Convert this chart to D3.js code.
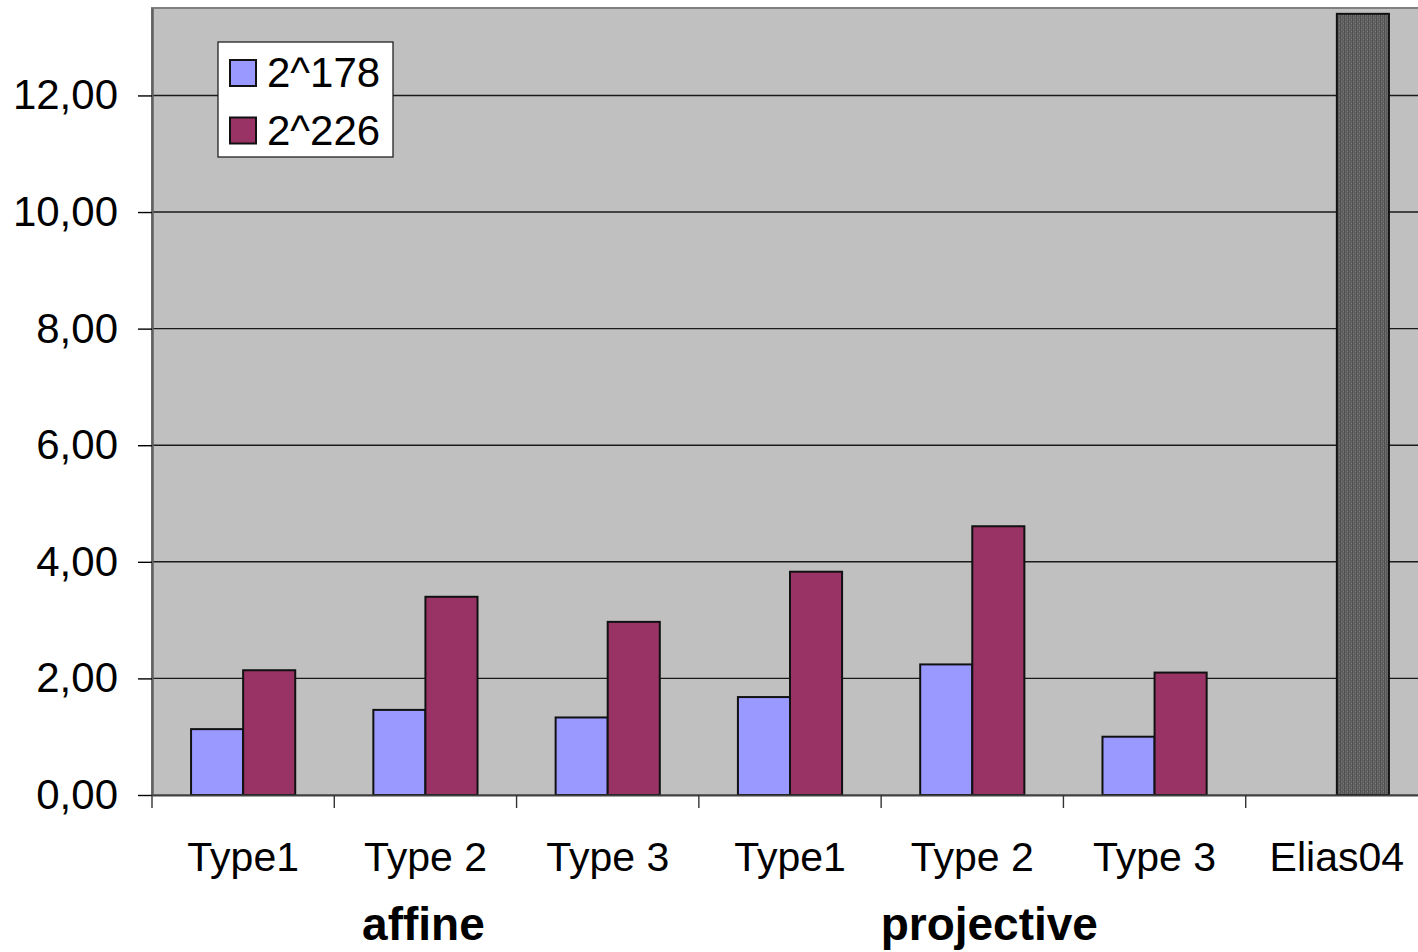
<!DOCTYPE html>
<html>
<head>
<meta charset="utf-8">
<script src="https://cdn.jsdelivr.net/npm/d3@7"></script>
<style>
  html, body { margin: 0; padding: 0; background: #fff; }
  svg { display: block; }
  text { font-family: "Liberation Sans", Arial, sans-serif; fill: #000; }
</style>
</head>
<body>
<svg id="chart" width="1418" height="952"></svg>
<script>
// Category labels along the x axis
const categories = ["Type1", "Type 2", "Type 3", "Type1", "Type 2", "Type 3", "Elias04"];
// Series names as shown in the legend
const seriesNames = ["2^178", "2^226"];
// Values per series (null = no bar)
const values178 = [1.13, 1.46, 1.33, 1.68, 2.24, 1.00, null];
const values226 = [2.14, 3.40, 2.97, 3.83, 4.61, 2.10, 13.40];
// Group labels under the categories: [label, first index, last index]
const groupLabels = ["affine", "projective"];
const groupStart = [0, 3];
const groupEnd = [2, 5];
// Y axis tick values
const yTicks = [0, 2, 4, 6, 8, 10, 12];

const svg = d3.select("#chart");
const plotLeft = 152, plotRight = 1428, plotTop = 8, plotBottom = 795;

const x = d3.scaleBand().domain(d3.range(categories.length)).range([plotLeft, plotRight]).padding(0);
const x1 = d3.scaleBand().domain([0, 1]).range([0, x.bandwidth()]).paddingInner(0).paddingOuter(0.75);
const y = d3.scaleLinear().domain([0, 13.5]).range([plotBottom, plotTop]);

const colors = ["#9999FF", "#993366"];

// Texture used for the Elias04 bar
const defs = svg.append("defs");
const pat = defs.append("pattern").attr("id", "eliasFill")
  .attr("patternUnits", "userSpaceOnUse").attr("width", 4).attr("height", 4);
pat.append("rect").attr("width", 4).attr("height", 4).attr("fill", "#666666");
pat.append("rect").attr("x", 0).attr("width", 1).attr("height", 4).attr("fill", "#505050");
pat.append("rect").attr("x", 2).attr("width", 1).attr("height", 4).attr("fill", "#5a5a5a");
pat.append("rect").attr("x", 1).attr("y", 1).attr("width", 1).attr("height", 1).attr("fill", "#777777");
pat.append("rect").attr("x", 3).attr("y", 3).attr("width", 1).attr("height", 1).attr("fill", "#777777");

// Plot area background
svg.append("rect")
  .attr("x", plotLeft).attr("y", plotTop)
  .attr("width", plotRight - plotLeft).attr("height", plotBottom - plotTop)
  .attr("fill", "#C0C0C0")
  .attr("stroke", "#808080").attr("stroke-width", 2);

// Horizontal gridlines
svg.append("g").selectAll("line").data(yTicks.filter(d => d > 0)).join("line")
  .attr("x1", plotLeft).attr("x2", plotRight)
  .attr("y1", d => y(d)).attr("y2", d => y(d))
  .attr("stroke", "#1a1a1a").attr("stroke-width", 1.4);

// Y axis
const yAxis = d3.axisLeft(y).tickValues(yTicks).tickSizeInner(14).tickSizeOuter(0).tickPadding(20)
  .tickFormat(d => d3.format(".2f")(d).replace(".", ","));
const gy = svg.append("g").attr("transform", `translate(${plotLeft},0)`).call(yAxis);
gy.select(".domain").attr("stroke", "#606060").attr("stroke-width", 2.5);
gy.selectAll(".tick line").attr("stroke", "#000").attr("stroke-width", 1.4);
gy.selectAll(".tick text")
  .style("font-family", '"Liberation Sans", Arial, sans-serif')
  .style("font-size", "42px").attr("fill", "#000");

// Bars
const barData = [];
categories.forEach((c, i) => {
  [values178[i], values226[i]].forEach((v, s) => {
    if (v != null) barData.push({ i, s, v, special: categories[i] === "Elias04" });
  });
});
svg.append("g").selectAll("rect").data(barData).join("rect")
  .attr("x", d => x(d.i) + x1(d.s))
  .attr("y", d => y(d.v))
  .attr("width", x1.bandwidth())
  .attr("height", d => y(0) - y(d.v))
  .attr("fill", d => d.special ? "url(#eliasFill)" : colors[d.s])
  .attr("stroke", "#111").attr("stroke-width", 2);

// X axis baseline and category ticks
const xAxis = d3.axisBottom(x).tickSize(0).tickFormat(i => categories[i]).tickPadding(47);
const gx = svg.append("g").attr("transform", `translate(0,${plotBottom})`).call(xAxis);
gx.select(".domain").attr("stroke", "#404040").attr("stroke-width", 2);
gx.selectAll(".tick text")
  .style("font-family", '"Liberation Sans", Arial, sans-serif')
  .style("font-size", "41px").attr("fill", "#000");
svg.append("g").selectAll("line").data(d3.range(categories.length + 1)).join("line")
  .attr("x1", i => plotLeft + i * x.step()).attr("x2", i => plotLeft + i * x.step())
  .attr("y1", plotBottom).attr("y2", plotBottom + 13)
  .attr("stroke", "#333").attr("stroke-width", 1.4);

// Group labels
svg.append("g").selectAll("text").data(groupLabels).join("text")
  .attr("x", (d, k) => (x(groupStart[k]) + x(groupEnd[k]) + x.bandwidth()) / 2 + (k === 1 ? 17 : -2))
  .attr("y", 940)
  .attr("text-anchor", "middle")
  .style("font-size", "46px").style("font-weight", "bold")
  .text(d => d);

// Legend
const lg = svg.append("g");
lg.append("rect").attr("x", 218).attr("y", 42).attr("width", 175).attr("height", 115)
  .attr("fill", "#fff").attr("stroke", "#222").attr("stroke-width", 1.3);
seriesNames.forEach((n, k) => {
  lg.append("rect").attr("x", 230).attr("y", 60 + k * 57.5).attr("width", 26).attr("height", 26)
    .attr("fill", colors[k]).attr("stroke", "#111").attr("stroke-width", 2);
  lg.append("text").attr("x", 267).attr("y", 87 + k * 57.5)
    .style("font-size", "42px").text(n);
});
</script>
</body>
</html>
